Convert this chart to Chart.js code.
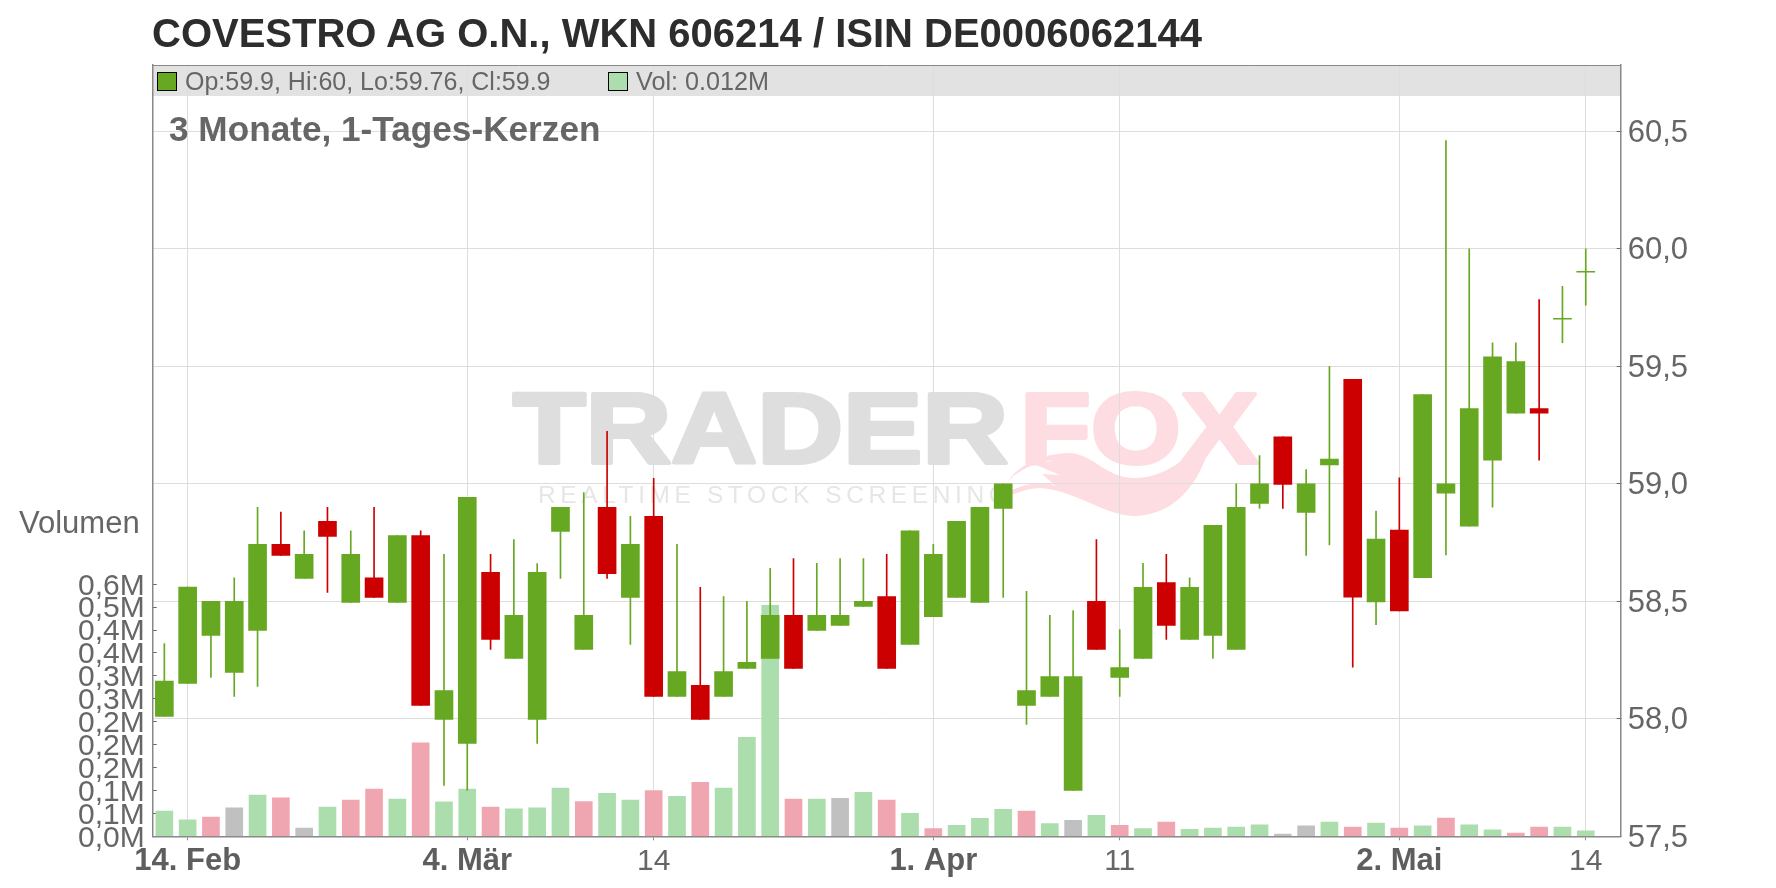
<!DOCTYPE html>
<html lang="de">
<head>
<meta charset="utf-8">
<title>COVESTRO AG O.N.</title>
<script src="https://cdn.jsdelivr.net/npm/chart.js@4"></script>
<style>
html,body{margin:0;padding:0;background:#fff;overflow:hidden}
#wrap{position:relative;width:1776px;height:888px;font-family:"Liberation Sans",Arial,sans-serif}
canvas{position:absolute;left:0;top:0}
.t{position:absolute;white-space:nowrap;line-height:1;color:#666}
.sw{position:absolute;width:18px;height:17px;border:1px solid #000;box-sizing:content-box}
</style>
</head>
<body>
<div id="wrap">
<canvas id="c" width="1776" height="888"></canvas>
<div class="t" style="left:152px;top:13px;font-size:40px;font-weight:bold;color:#2d2d2d">COVESTRO AG O.N., WKN 606214 / ISIN DE0006062144</div>
<div class="sw" style="left:157px;top:72px;background:#66a821"></div>
<div class="t" style="left:185px;top:69px;font-size:25px">Op:59.9, Hi:60, Lo:59.76, Cl:59.9</div>
<div class="sw" style="left:608px;top:72px;background:#acddac"></div>
<div class="t" style="left:636px;top:69px;font-size:25.2px">Vol: 0.012M</div>
<div class="t" style="left:169px;top:111px;font-size:35.2px;font-weight:bold">3 Monate, 1-Tages-Kerzen</div>
<div class="t" style="left:19px;top:507px;font-size:31px">Volumen</div>
</div>
<script>
const categories = ["","14. Feb","","","","","","","","","","","","4. Mär","","","","","","","","14","","","","","","","","","","","","1. Apr","","","","","","","","11","","","","","","","","","","","","2. Mai","","","","","","","","14",""];
const boldLabels = ["14. Feb","4. Mär","1. Apr","2. Mai"];
const opens  = [58.01,58.15,58.355,58.197,58.376,58.742,58.597,58.84,58.495,58.60,58.495,58.78,57.997,57.895,58.623,58.257,57.997,58.797,58.295,58.90,58.516,58.861,58.095,58.142,58.095,58.214,58.257,58.44,58.376,58.397,58.478,58.52,58.316,58.435,58.516,58.495,58.895,58.057,58.095,57.695,58.50,58.176,58.257,58.58,58.338,58.355,58.295,58.916,59.2,58.878,59.08,59.445,58.497,58.803,58.60,58.96,58.82,59.10,59.30,59.32,59.70,59.90];
const closes = [58.16,58.56,58.50,58.50,58.742,58.695,58.70,58.776,58.70,58.516,58.78,58.057,58.12,58.942,58.338,58.44,58.623,58.90,58.44,58.618,58.742,58.095,58.201,57.997,58.201,58.24,58.44,58.214,58.44,58.44,58.50,58.214,58.80,58.70,58.84,58.90,59.0,58.12,58.18,58.18,58.295,58.218,58.559,58.397,58.559,58.823,58.90,59.0,58.997,59.0,59.105,58.518,58.765,58.459,59.38,59.0,59.32,59.54,59.52,59.30,59.70,59.90];
const highs  = [58.32,58.56,58.50,58.60,58.90,58.88,58.80,58.90,58.80,58.90,58.78,58.80,58.70,58.942,58.70,58.763,58.66,58.90,58.963,59.223,58.861,59.023,58.742,58.559,58.52,58.50,58.64,58.682,58.661,58.682,58.682,58.70,58.80,58.742,58.84,58.90,59.0,58.542,58.44,58.461,58.763,58.38,58.661,58.70,58.60,58.823,59.0,59.12,59.2,59.06,59.50,59.445,58.884,59.025,59.38,60.46,60.0,59.60,59.60,59.784,59.84,60.0];
const lows   = [58.01,58.15,58.176,58.095,58.138,58.695,58.597,58.538,58.495,58.516,58.495,58.057,57.716,57.695,58.295,58.257,57.895,58.597,58.295,58.597,58.316,58.095,58.095,57.997,58.095,58.214,58.257,58.214,58.376,58.397,58.478,58.214,58.316,58.435,58.516,58.495,58.516,57.976,58.095,57.695,58.295,58.095,58.257,58.338,58.338,58.257,58.295,58.895,58.895,58.695,58.74,58.22,58.40,58.459,58.60,58.697,58.82,58.90,59.30,59.10,59.60,59.76];
const volumes = [.055,.036,.042,.062,.090,.084,.018,.064,.079,.103,.081,.204,.075,.103,.064,.060,.062,.105,.076,.094,.079,.100,.087,.118,.105,.216,.504,.081,.081,.083,.096,.079,.050,.017,.024,.039,.059,.055,.028,.035,.046,.024,.017,.031,.015,.018,.020,.025,.005,.023,.031,.020,.029,.018,.023,.040,.025,.014,.007,.020,.020,.012];
const volumeDirs = ["u","u","d","n","u","d","n","u","d","d","u","d","u","u","d","u","u","u","d","u","u","d","u","d","u","u","u","d","u","n","u","d","u","d","u","u","u","d","u","n","u","d","u","d","u","u","u","u","n","n","u","d","u","d","u","d","u","u","d","d","u","u"];
const priceTicks = [57.5,58,58.5,59,59.5,60,60.5];
const volumeTicks = [0,.05,.1,.15,.2,.25,.3,.35,.4,.45,.5,.55];
const volumeTickLabels = ["0,0M","0,1M","0,1M","0,2M","0,2M","0,2M","0,3M","0,3M","0,4M","0,4M","0,5M","0,6M"];

const GREEN="#66a821", RED="#cc0000", VOLG="#acddac", VOLR="#f0a6b0", VOLN="#c0c0c0";
const TXT="#666666", GRID="#dddddd", AXIS="#888888";
const candleColors = opens.map((o,i)=> closes[i]>=o ? GREEN : RED);
const volColors = volumeDirs.map(d=> d==="u"?VOLG : d==="d"?VOLR : VOLN);

const backdrop = {
  id:"backdrop",
  beforeDraw(chart){
    const ctx=chart.ctx, a=chart.chartArea;
    ctx.save();
    ctx.fillStyle="#e2e2e2";
    ctx.fillRect(a.left,a.top,a.right-a.left,31);
    const stretched=(txt,x,y,w,size,fill)=>{
      ctx.save();
      ctx.font="bold "+size+"px 'Liberation Sans'";
      const m=ctx.measureText(txt).width;
      ctx.translate(x,y); ctx.scale(w/m,1);
      ctx.fillStyle=fill; ctx.strokeStyle=fill; ctx.lineWidth=4; ctx.lineJoin="round";
      ctx.textBaseline="alphabetic"; ctx.textAlign="left";
      ctx.fillText(txt,0,0); ctx.strokeText(txt,0,0); ctx.restore();
    };
    const g=ctx.createLinearGradient(0,388,0,465);
    g.addColorStop(0,"#dedede"); g.addColorStop(1,"#efefef");
    stretched("TRADER",513,463,495,100,g);
    stretched("FOX",1020,463,238,100,"#fddde1");
    ctx.fillStyle="#fddde1";
    ctx.beginPath();
    ctx.moveTo(1007,483);
    ctx.bezierCurveTo(1015,468,1040,453,1070,453);
    ctx.bezierCurveTo(1095,455,1105,478,1135,478);
    ctx.bezierCurveTo(1170,478,1195,450,1214,430);
    ctx.bezierCurveTo(1205,475,1180,515,1135,516);
    ctx.bezierCurveTo(1105,516,1075,490,1040,488);
    ctx.bezierCurveTo(1030,488,1018,492,1012,495);
    ctx.lineTo(1012,490);
    ctx.bezierCurveTo(1030,482,1050,480,1058,488);
    ctx.lineTo(1042,474);
    ctx.lineTo(1060,475);
    ctx.lineTo(1036,465);
    ctx.lineTo(1054,460);
    ctx.bezierCurveTo(1034,462,1015,472,1007,483);
    ctx.closePath(); ctx.fill();
    ctx.font="24.5px 'Liberation Sans'";
    ctx.fillStyle="#e6e6e6";
    ctx.textBaseline="alphabetic"; ctx.textAlign="left";
    ctx.letterSpacing="4.6px";
    ctx.fillText("REALTIME STOCK SCREENING",538,503);
    ctx.letterSpacing="0px";
    ctx.restore();
  },
  afterDraw(chart){
    const ctx=chart.ctx,a=chart.chartArea;
    ctx.save();
    ctx.strokeStyle=AXIS; ctx.lineWidth=1;
    ctx.beginPath(); ctx.moveTo(a.left,a.top+.5); ctx.lineTo(a.right,a.top+.5); ctx.stroke();
    ctx.restore();
  }
};

new Chart(document.getElementById("c"),{
  type:"bar",
  plugins:[backdrop],
  data:{
    labels:categories,
    datasets:[
      {label:"Volumen",yAxisID:"yV",order:3,grouped:false,barThickness:17,
       data:volumes,backgroundColor:volColors},
      {label:"Docht",yAxisID:"yP",order:2,grouped:false,barThickness:1,
       data:opens.map((_,i)=>[lows[i],highs[i]]),backgroundColor:candleColors},
      {label:"Kerze",yAxisID:"yP",order:1,grouped:false,barThickness:18,minBarLength:1,
       data:opens.map((o,i)=>[o,closes[i]]),backgroundColor:candleColors}
    ]
  },
  options:{
    responsive:false,animation:false,devicePixelRatio:1,
    layout:{padding:{top:65,left:0,right:0,bottom:0}},
    plugins:{legend:{display:false},title:{display:false},tooltip:{enabled:false}},
    scales:{
      x:{
        type:"category",offset:true,
        afterBuildTicks(s){s.ticks=s.ticks.filter(t=>categories[t.value]!=="");},
        afterFit(s){s.height=888-836.3;},
        grid:{offset:false,color:GRID,lineWidth:1,tickLength:4,tickColor:AXIS},
        border:{color:AXIS,width:1.5},
        ticks:{autoSkip:false,maxRotation:0,minRotation:0,padding:3,
          color(c){return boldLabels.includes(c.tick&&c.tick.label)?"#5e5e5e":TXT;},
          font(c){const b=boldLabels.includes(c.tick&&c.tick.label);return {family:"'Liberation Sans'",size:b?31:30,weight:b?"bold":"normal"};}}
      },
      yP:{
        type:"linear",position:"right",min:57.5,max:60.782,
        afterBuildTicks(s){s.ticks=priceTicks.map(v=>({value:v}));},
        afterFit(s){s.width=1776-1620.7;},
        grid:{color:GRID,lineWidth:1,tickLength:-4,tickColor:"#666666"},
        border:{color:AXIS,width:1.5},
        ticks:{padding:11,labelOffset:2,color:TXT,font:{family:"'Liberation Sans'",size:31},
          callback(v){return v.toFixed(1).replace(".",",");}}
      },
      yV:{
        type:"linear",position:"left",min:0,max:1.683,
        afterBuildTicks(s){s.ticks=volumeTicks.map(v=>({value:v}));},
        afterFit(s){s.width=152.7;},
        grid:{drawOnChartArea:false,tickLength:-4,tickColor:"#666666"},
        border:{color:AXIS,width:1.5},
        ticks:{padding:12,labelOffset:2,color:TXT,autoSkip:false,font:{family:"'Liberation Sans'",size:30},
          callback(v,i){return volumeTickLabels[i];}}
      }
    }
  }
});
</script>
</body>
</html>
